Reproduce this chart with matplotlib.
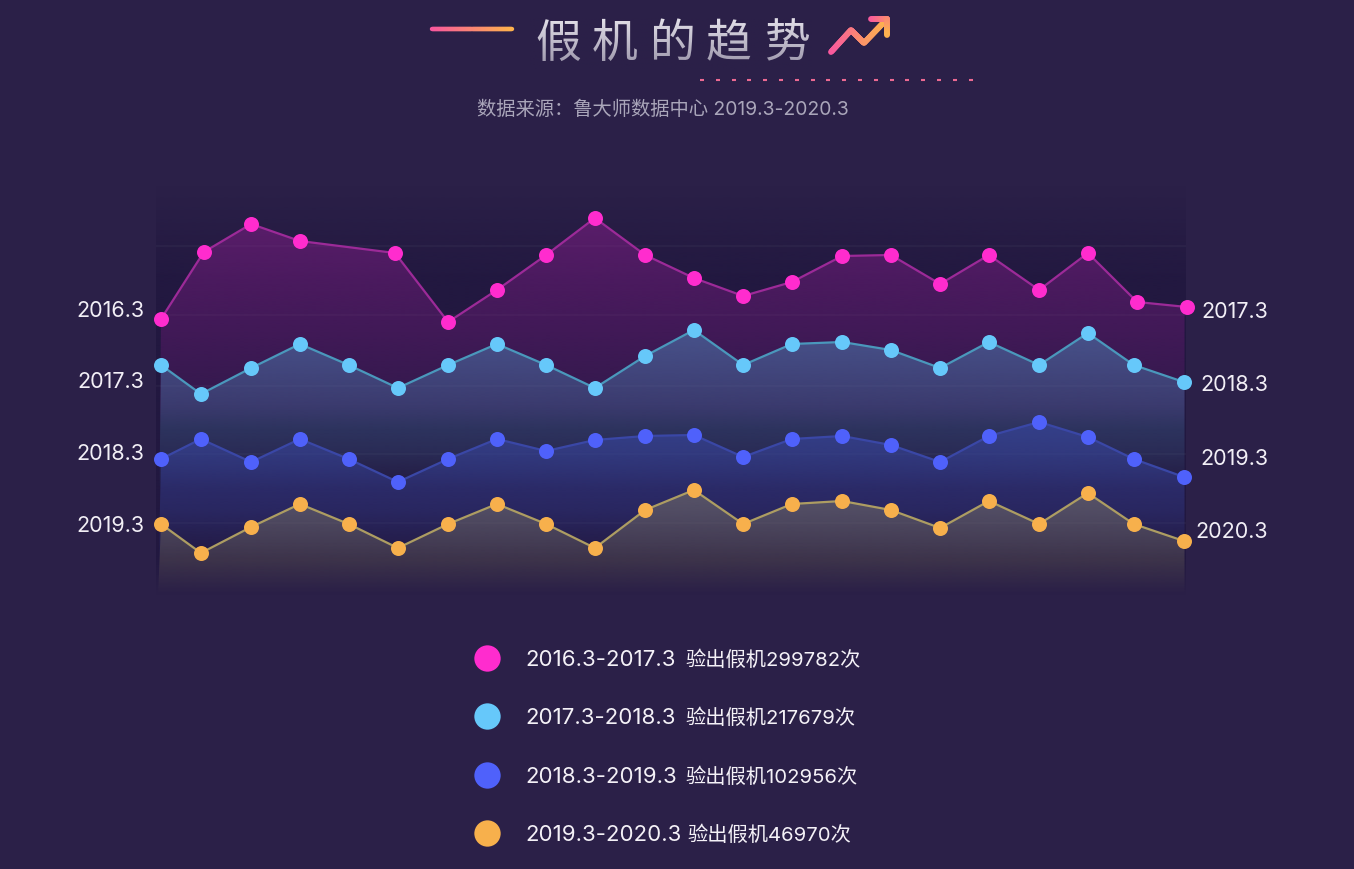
import numpy as np
import matplotlib
matplotlib.use('Agg')
import matplotlib.pyplot as plt
from matplotlib.collections import LineCollection
from matplotlib.colors import to_rgb, LinearSegmentedColormap
from matplotlib.patches import Polygon

plt.rcParams['font.family'] = ['Inter', 'Noto Sans CJK SC', 'DejaVu Sans']

# data
x_pink = [0, .87, 1.83, 2.82, 4.75, 5.83, 6.82, 7.82, 8.81, 9.83, 10.82, 11.82, 12.81, 13.83, 14.82, 15.82, 16.81, 17.83, 18.82, 19.82, 20.83]
x_rest = [0, .81, 1.83, 2.82, 3.81, 4.81, 5.83, 6.82, 7.82, 8.81, 9.83, 10.82, 11.82, 12.81, 13.83, 14.82, 15.82, 16.81, 17.83, 18.82, 19.75, 20.77]

pink = [276, 343, 371, 354, 342, 273, 305, 340, 377, 340, 317, 299, 313, 339, 340, 311, 340, 305, 342, 293, 288]
cyan = [230, 201, 227, 251, 230, 207, 230, 251, 230, 207, 239, 265, 230, 251, 253, 245, 227, 253, 230, 262, 230, 213]
blue = [136, 156, 133, 156, 136, 113, 136, 156, 144, 155, 159, 160, 138, 156, 159, 150, 133, 159, 173, 158, 136, 118]
orange = [71, 42, 68, 91, 71, 47, 71, 91, 71, 47, 85, 105, 71, 91, 94, 85, 67, 94, 71, 102, 71, 54]

left_labels = ['2016.3', '2017.3', '2018.3', '2019.3']
left_y = [310, 381, 453, 525]
right_labels = ['2017.3', '2018.3', '2019.3', '2020.3']
right_y = [311, 384, 458, 531]
legend_ranges = ['2016.3-2017.3', '2017.3-2018.3', '2018.3-2019.3', '2019.3-2020.3']
legend_counts = ['验出假机299782次', '验出假机217679次', '验出假机102956次', '验出假机46970次']
legend_count_x = [685, 685, 685, 687]
legend_y = [659, 717, 776, 834]
title_chars = ['假', '机', '的', '趋', '势']
title_x = [558, 615, 672, 729, 787]

colors = ['#ff2cce', '#66c8fa', '#4f61fb', '#f7b04c']
line_colors = ['#9c2a98', '#4a98bc', '#3a47a6', '#ad9d62']
fill_top = ['#9a1f9a', '#4d80b4', '#3a48a8', '#8a8268']
bg = '#2b2048'
W, H = 1354, 870

fig = plt.figure(figsize=(W / 100, H / 100), dpi=100, facecolor=bg)

# page axes, in pixels, for the title and legend
page = fig.add_axes([0, 0, 1, 1], zorder=3)
page.set_xlim(0, W)
page.set_ylim(H, 0)
page.axis('off')
page.patch.set_alpha(0)

# chart axes
ax = fig.add_axes([156 / W, 1 - 596 / H, 1030 / W, 410 / H], zorder=2)
step = 49.25
ax.set_xlim(-5 / step, 1025 / step)
ax.set_ylim(0, 410)
ax.axis('off')
ax.patch.set_alpha(0)


def gradient(y_top, y_bot, color, a_top, a_bot, clip=None, zorder=1):
    n = 256
    img = np.zeros((n, 1, 4))
    img[:, :, :3] = to_rgb(color)
    img[:, 0, 3] = np.linspace(a_top, a_bot, n)
    x0, x1 = ax.get_xlim()
    im = ax.imshow(img, extent=[x0, x1, y_bot, y_top], aspect='auto', origin='upper',
                   zorder=zorder, interpolation='bilinear')
    if clip is not None:
        poly = Polygon(clip, closed=True, transform=ax.transData, facecolor='none', edgecolor='none')
        ax.add_patch(poly)
        im.set_clip_path(poly)
    ax.set_xlim(x0, x1)
    ax.set_ylim(0, 410)


# dark panel behind the areas
gradient(410, 310, '#221840', 0, 1, zorder=0)
gradient(310, 40, '#221840', 1, 1, zorder=0)
gradient(40, 0, '#221840', 1, 0, zorder=0)

# faint rows
for yv in [349, 280, 209, 141, 72]:
    ax.axhline(yv, color='#ffffff', alpha=0.03, lw=1.5, zorder=0.5)

series = [(x_pink, pink), (x_rest, cyan), (x_rest, blue), (x_rest, orange)]
grad_range = [(380, 190), (270, 145), (175, 85), (110, 35)]
grad_alpha = [(0.45, 0.14), (0.58, 0.2), (0.6, 0.32), (0.5, 0.26)]
fade_end = [165, 105, 35, 1]

for i, (xs, ys) in enumerate(series):
    z = 1 + i
    x_edge_l, x_edge_r = 0, 1025 / step - 0.03
    pts = [(x_edge_l - 0.06, 0)] + [(x_edge_l, ys[0])] + list(zip(xs, ys)) + [(x_edge_r, ys[-1]), (x_edge_r, 0)]
    gradient(grad_range[i][0], grad_range[i][1], fill_top[i], grad_alpha[i][0], grad_alpha[i][1], clip=pts, zorder=z)
    # the rest of the colour dies out before the next band
    gradient(grad_range[i][1], fade_end[i], fill_top[i], grad_alpha[i][1], 0, clip=pts, zorder=z)
    ax.plot(xs, ys, color=line_colors[i], lw=1.6, zorder=z + 0.4, clip_on=False)
    ax.plot(xs, ys, ls='none', marker='o', ms=10.8, mfc=colors[i], mec='none', zorder=10 + i, clip_on=False)

# side labels
for s, y in zip(left_labels, left_y):
    page.text(144, y + 1, s, color='#f2eff6', fontsize=15.5, ha='right', va='center')
for s, y in zip(right_labels, right_y):
    page.text(1268, y + 1, s, color='#f2eff6', fontsize=15.5, ha='right', va='center')

# legend
for c, r, n, nx, y in zip(colors, legend_ranges, legend_counts, legend_count_x, legend_y):
    page.scatter([487], [y], s=360, color=c, linewidths=0)
    page.text(525, y + 1, r, color='#f4f1f7', fontsize=16, ha='left', va='center')
    page.text(nx, y + 1, n, color='#f4f1f7', fontsize=14.6, ha='left', va='center')

# title
for ch, x in zip(title_chars, title_x):
    page.text(x, 44, ch, color='#e4e1ea', fontsize=33, fontweight='light', ha='center', va='center',
              family=['Noto Sans CJK SC', 'DejaVu Sans'])
fade = np.zeros((64, 1, 4))
fade[:, :, :3] = to_rgb(bg)
fade[:, 0, 3] = np.linspace(0, 0.42, 64)
page.imshow(fade, extent=[530, 812, 70, 18], aspect='auto', origin='upper', zorder=5)
page.set_xlim(0, W)
page.set_ylim(H, 0)

page.text(663, 110, '数据来源：鲁大师数据中心 2019.3-2020.3', color='#aaa6ba', fontsize=13.9, ha='center', va='center')

ramp = LinearSegmentedColormap.from_list('ramp', ['#f9589f', '#fdb24e'])


def ramp_line(px, py, lw):
    t = np.linspace(0, 1, len(px))
    dense_t = np.linspace(0, 1, 80)
    xx = np.interp(dense_t, t, px)
    yy = np.interp(dense_t, t, py)
    segs = np.stack([np.column_stack([xx[:-1], yy[:-1]]), np.column_stack([xx[1:], yy[1:]])], axis=1)
    lc = LineCollection(segs, cmap=ramp, linewidths=lw, capstyle='round')
    lc.set_array(dense_t[:-1])
    page.add_collection(lc)


ramp_line([432, 512], [29.5, 29.5], 3.2)
ramp_line([831, 851, 864, 887], [53, 31, 44, 20], 4.2)
ramp_line([871, 887, 887], [20, 20, 36], 4.2)

# dotted rule under the title
dot_x = np.arange(702, 976, 15.8)
page.scatter(dot_x, [80.5] * len(dot_x), marker='_', s=10, c='#ec6a92', linewidths=1.5)

fig.savefig('out.png', dpi=100, facecolor=bg)
